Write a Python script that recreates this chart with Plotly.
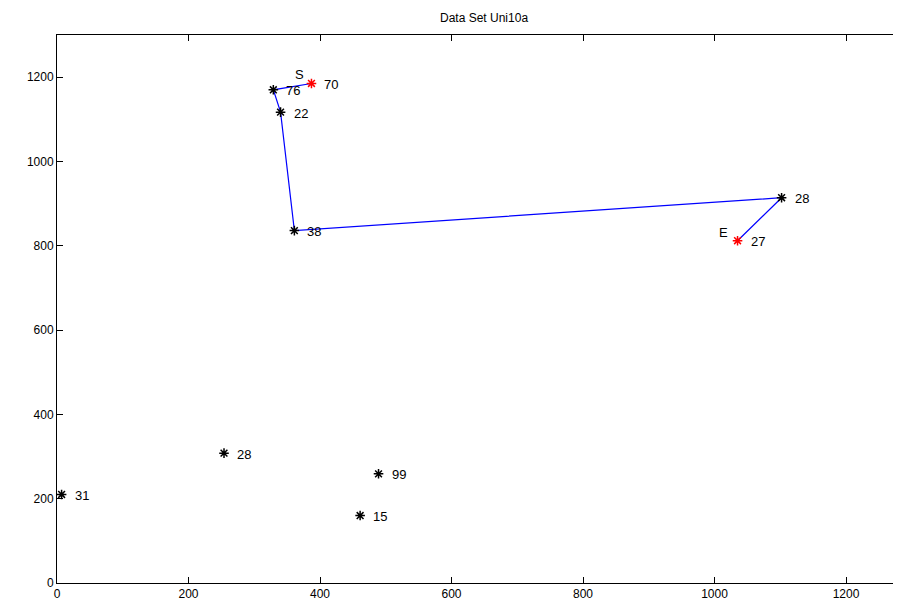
import plotly.graph_objects as go

# Data
labels = ["70", "76", "22", "38", "28", "27", "31", "28", "99", "15"]
xs = [387, 329, 340, 361, 1102, 1035, 7, 254, 489, 461]
ys = [1185, 1170, 1117, 836, 914, 812, 210, 308, 259, 160]
route = [0, 1, 2, 3, 4, 5]      # indices visited in order
start_idx = 0
end_idx = 5
x_ticks = [0, 200, 400, 600, 800, 1000, 1200]
y_ticks = [0, 200, 400, 600, 800, 1000, 1200]
title = "Data Set Uni10a"

FONT = "Liberation Sans, Arial, Helvetica, sans-serif"

fig = go.Figure()

# route line
fig.add_trace(go.Scatter(
    x=[xs[i] for i in route], y=[ys[i] for i in route],
    mode="lines", line=dict(color="#0000ff", width=1.2),
    hoverinfo="skip", showlegend=False))

# all points (black asterisks)
black = [i for i in range(len(xs)) if i not in (start_idx, end_idx)]
fig.add_trace(go.Scatter(
    x=[xs[i] for i in black], y=[ys[i] for i in black], mode="markers",
    marker=dict(symbol="asterisk", size=8, color="black",
                line=dict(color="black", width=1.5)),
    showlegend=False))
fig.add_trace(go.Scatter(
    x=[xs[start_idx], xs[end_idx]], y=[ys[start_idx], ys[end_idx]], mode="markers",
    marker=dict(symbol="asterisk", size=8, color="red",
                line=dict(color="red", width=1.5)),
    showlegend=False))

annotations = []
for x, y, t in zip(xs, ys, labels):
    annotations.append(dict(x=x, y=y, text=t, showarrow=False, xanchor="left",
                            yanchor="middle", xshift=11, yshift=-1,
                            font=dict(family=FONT, size=13, color="black")))
annotations.append(dict(x=xs[start_idx], y=ys[start_idx], text="S", showarrow=False,
                        xanchor="center", yanchor="middle", xshift=-12, yshift=9,
                        font=dict(family=FONT, size=13, color="black")))
annotations.append(dict(x=xs[end_idx], y=ys[end_idx], text="E", showarrow=False,
                        xanchor="center", yanchor="middle", xshift=-14, yshift=8,
                        font=dict(family=FONT, size=13, color="black")))
annotations.append(dict(x=650, y=1300, xref="x", yref="y", text=title, showarrow=False,
                        xanchor="center", yanchor="bottom", yshift=8,
                        font=dict(family=FONT, size=12, color="black")))

axis_common = dict(showgrid=False, zeroline=False, ticks="inside", ticklen=6,
                   tickwidth=1, tickcolor="black", linecolor="black", linewidth=1,
                   showline=True, tickfont=dict(family=FONT, size=12, color="black"))

# page body has an 8px margin, so the figure is sized to fill 901x607 from (8,8)
fig.update_layout(
    width=893, height=599,
    margin=dict(l=49, r=0, t=27, b=24),
    paper_bgcolor="white", plot_bgcolor="white",
    annotations=annotations,
    xaxis=dict(range=[0, 1283.6], tickvals=x_ticks, mirror="ticks", **axis_common),
    yaxis=dict(range=[0, 1300], tickvals=y_ticks, mirror=False, **axis_common),
)

fig.write_html("out.html")
